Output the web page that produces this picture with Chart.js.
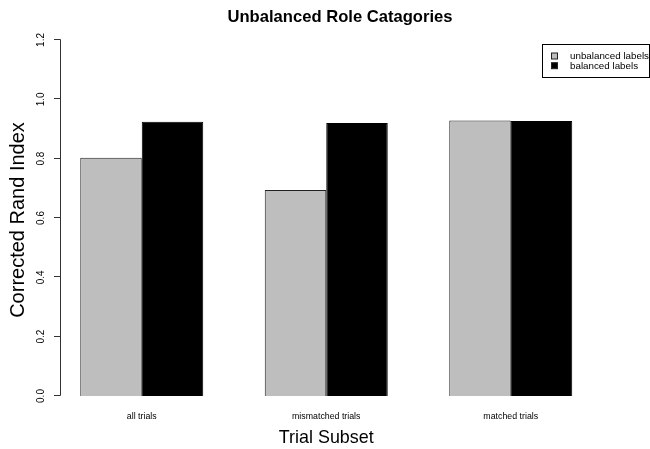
<!DOCTYPE html>
<html>
<head>
<meta charset="utf-8">
<script src="https://cdn.jsdelivr.net/npm/chart.js@4.4.0/dist/chart.umd.min.js"></script>
<style>
    html, body { margin: 0; padding: 0; background: #fff; }
</style>
</head>
<body>
<canvas id="roleChart" width="650" height="449"></canvas>
<script>
var categories = ['all trials', 'mismatched trials', 'matched trials'];
var unbalancedValues = [0.803, 0.694, 0.929];
var balancedValues = [0.924, 0.920, 0.927];
var yTicks = [0, 0.2, 0.4, 0.6, 0.8, 1.0, 1.2];
var yTickLabels = ['0.0', '0.2', '0.4', '0.6', '0.8', '1.0', '1.2'];
var seriesNames = ['unbalanced labels', 'balanced labels'];
var seriesColors = ['#bebebe', '#000000'];

var FONT = "'Liberation Sans', Arial, Helvetica, sans-serif";

// R style left axis: line only over the tick range, labels turned upright
var rAxisPlugin = {
    id: 'rAxis',
    afterDraw: function (chart) {
        var ctx = chart.ctx;
        var yScale = chart.scales.y;
        var axisX = Math.floor(chart.chartArea.left + 11) + 0.5;

        ctx.save();
        ctx.strokeStyle = '#333';
        ctx.lineWidth = 1;
        ctx.beginPath();
        ctx.moveTo(axisX, Math.round(yScale.getPixelForValue(yTicks[0])) - 0.5);
        ctx.lineTo(axisX, Math.round(yScale.getPixelForValue(yTicks[yTicks.length - 1])) - 0.5);
        yTicks.forEach(function (t) {
            var py = Math.round(yScale.getPixelForValue(t)) - 0.5;
            ctx.moveTo(axisX, py);
            ctx.lineTo(axisX - 6.5, py);
        });
        ctx.stroke();

        ctx.fillStyle = '#000';
        ctx.font = '10px ' + FONT;
        ctx.textAlign = 'center';
        ctx.textBaseline = 'middle';
        yTicks.forEach(function (t, i) {
            var py = yScale.getPixelForValue(t);
            ctx.save();
            ctx.translate(41.5, py);
            ctx.rotate(-Math.PI / 2);
            ctx.fillText(yTickLabels[i], 0, 0);
            ctx.restore();
        });

        ctx.font = '20px ' + FONT;
        ctx.textBaseline = 'alphabetic';
        ctx.save();
        ctx.translate(24, (yScale.top + yScale.bottom) / 2 + 2);
        ctx.rotate(-Math.PI / 2);
        ctx.fillText('Corrected Rand Index', 0, 0);
        ctx.restore();

        // legend box, top right
        ctx.strokeStyle = '#000';
        ctx.strokeRect(542.5, 44.5, 107, 33);
        ctx.font = '9.8px ' + FONT;
        ctx.textAlign = 'left';
        ctx.textBaseline = 'middle';
        chart.data.datasets.forEach(function (ds, i) {
            var rowY = 53 + i * 9.7;
            ctx.fillStyle = ds.backgroundColor;
            ctx.fillRect(551.5, rowY, 6, 6);
            ctx.strokeStyle = '#222';
            ctx.strokeRect(551.5, rowY, 6, 6);
            ctx.fillStyle = '#000';
            ctx.fillText(ds.label, 570, rowY + 3.5);
        });
        ctx.restore();
    }
};

var ctx = document.getElementById('roleChart').getContext('2d');
var roleChart = new Chart(ctx, {
    type: 'bar',
    data: {
        labels: categories,
        datasets: [{
            label: seriesNames[0],
            data: unbalancedValues,
            backgroundColor: seriesColors[0],
            borderColor: '#222',
            borderWidth: 1,
            barPercentage: 1,
            categoryPercentage: 2 / 3
        }, {
            label: seriesNames[1],
            data: balancedValues,
            backgroundColor: seriesColors[1],
            borderColor: '#000',
            borderWidth: 1,
            barPercentage: 1,
            categoryPercentage: 2 / 3
        }]
    },
    options: {
        responsive: false,
        animation: false,
        layout: {
            padding: { left: 30, right: 0, top: 0, bottom: 0 }
        },
        scales: {
            x: {
                grid: { display: false, drawTicks: false },
                border: { display: false },
                ticks: {
                    color: '#000',
                    font: { family: FONT, size: 8.8 },
                    padding: 15,
                    maxRotation: 0,
                    autoSkip: false
                },
                title: {
                    display: true,
                    text: 'Trial Subset',
                    color: '#000',
                    font: { family: FONT, size: 17.9 },
                    padding: { top: 0, bottom: 0.6 }
                },
                afterFit: function (scale) { scale.height = 53; }
            },
            y: {
                min: 0,
                max: 1.2,
                ticks: { display: false, stepSize: 0.2 },
                grid: { display: false, drawTicks: false },
                border: { display: false },
                afterFit: function (scale) { scale.width = 19.5; }
            },
            yPad: {
                type: 'linear',
                position: 'right',
                ticks: { display: false },
                grid: { display: false, drawTicks: false },
                border: { display: false },
                afterFit: function (scale) { scale.width = 47; }
            }
        },
        plugins: {
            legend: { display: false },
            tooltip: { enabled: false },
            title: {
                display: true,
                text: 'Unbalanced Role Catagories',
                color: '#000',
                font: { family: FONT, size: 16.6, weight: 'bold' },
                padding: { top: 7.4, bottom: 12.66 }
            }
        }
    },
    plugins: [rAxisPlugin]
});
</script>
</body>
</html>
